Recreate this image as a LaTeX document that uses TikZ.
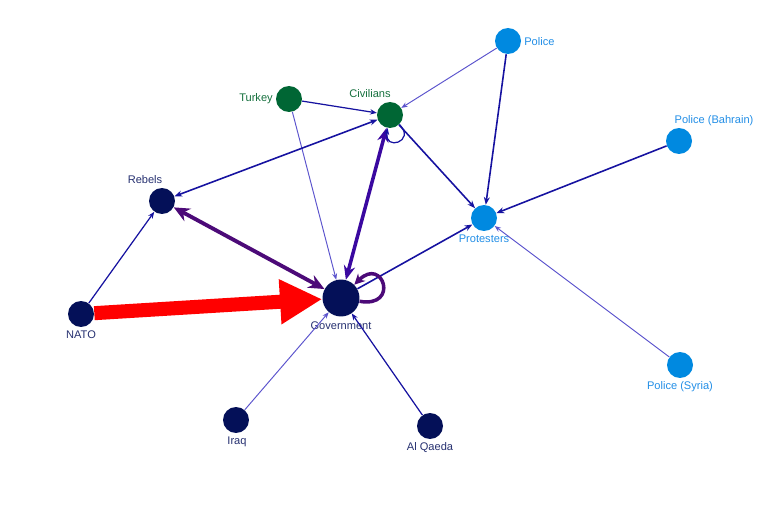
\documentclass[tikz,border=0pt]{standalone}
\usepackage{fontspec}
\setmainfont{Liberation Sans}
\usepackage{tikz}
\usetikzlibrary{arrows.meta}
\definecolor{NavyNode}{RGB}{4,16,88}
\definecolor{GreenNode}{RGB}{0,102,52}
\definecolor{SkyNode}{RGB}{0,137,224}
\definecolor{NavyText}{RGB}{38,48,112}
\definecolor{GreenText}{RGB}{22,112,62}
\definecolor{SkyText}{RGB}{34,142,230}
\definecolor{TieDark}{RGB}{22,18,160}
\definecolor{TieLight}{RGB}{92,84,205}
\definecolor{TieViolet}{RGB}{58,8,160}
\definecolor{TiePurple}{RGB}{76,10,120}
\definecolor{TieRed}{RGB}{255,0,0}
\tikzset{
  navynode/.style={circle,fill=NavyNode,inner sep=0pt,minimum size=0.52cm},
  greennode/.style={circle,fill=GreenNode,inner sep=0pt,minimum size=0.52cm},
  skynode/.style={circle,fill=SkyNode,inner sep=0pt,minimum size=0.52cm},
  navytext/.style={text=NavyText,font=\fontsize{6.3}{7.5}\selectfont,inner sep=0pt},
  greentext/.style={text=GreenText,font=\fontsize{6.3}{7.5}\selectfont,inner sep=0pt},
  skytext/.style={text=SkyText,font=\fontsize{6.3}{7.5}\selectfont,inner sep=0pt},
  thintie/.style={-{Stealth[length=3.6pt,width=2.8pt]},TieLight,line width=0.55pt},
  darktie/.style={-{Stealth[length=3.8pt,width=3pt]},TieDark,line width=0.7pt},
  boldtie/.style={-{Stealth[length=4.4pt,width=3.4pt]},TieDark,line width=0.9pt},
  violettie/.style={{Stealth[length=8pt,width=6.5pt]}-{Stealth[length=8pt,width=6.5pt]},
                    TieViolet,line width=2pt},
  purpletie/.style={{Stealth[length=9pt,width=8pt]}-{Stealth[length=9pt,width=8pt]},
                    TiePurple,line width=2.2pt},
  redtie/.style={-{Triangle[length=24pt,width=24pt]},TieRed,line width=8pt}}

\begin{document}
\begin{tikzpicture}[x=0.02cm,y=0.02cm]
\useasboundingbox (0,0) rectangle (768,-530);

% actors
\node[navynode] (nato)  at (81,-314)  {};
\node[navynode] (reb)   at (162,-201) {};
\node[navynode, minimum size=0.74cm] (gov) at (341,-298) {};
\node[navynode] (iraq)  at (236,-420) {};
\node[navynode] (aq)    at (430,-426) {};
\node[greennode] (tur)  at (289,-99)  {};
\node[greennode] (civ)  at (390,-115) {};
\node[skynode] (pol)    at (508,-41)  {};
\node[skynode] (polb)   at (679,-141) {};
\node[skynode] (prot)   at (484,-218) {};
\node[skynode] (pols)   at (680,-365) {};

% names
\node[navytext]  (nato-l) at (81,-335)  {NATO};
\node[navytext]  (reb-l)  at (145,-180) {Rebels};
\node[navytext]  (gov-l)  at (341,-326) {Government};
\node[navytext]  (iraq-l) at (237,-442) {Iraq};
\node[navytext]  (aq-l)   at (430,-448) {Al Qaeda};
\node[greentext] (tur-l)  at (256,-99)  {Turkey};
\node[greentext] (civ-l)  at (370,-94)  {Civilians};
\node[skytext, anchor=west] (pol-l) at (524,-42) {Police};
\node[skytext]   (polb-l) at (714,-121) {Police (Bahrain)};
\node[skytext]   (prot-l) at (484,-239) {Protesters};
\node[skytext]   (pols-l) at (680,-387) {Police (Syria)};

% ties
\draw[thintie] (pol) -- (civ);
\draw[boldtie] (pol) -- (prot);
\draw[boldtie] (polb) -- (prot);
\draw[thintie] (pols) -- (prot);
\draw[boldtie] (civ) -- (prot);
\draw[boldtie] (gov) -- (prot);
\draw[darktie] (tur) -- (civ);
\draw[thintie] (tur) -- (gov);
\draw[boldtie,{Stealth[length=4.4pt,width=3.4pt]}-{Stealth[length=4.4pt,width=3.4pt]}] (reb) -- (civ);
\draw[darktie] (nato) -- (reb);
\draw[thintie] (iraq) -- (gov);
\draw[darktie] (aq) -- (gov);
\draw[violettie] (gov) -- (civ);
\draw[purpletie] (gov) -- (reb);
\draw[redtie] (nato) -- (gov);
\draw[darktie] (civ) to[out=-45,in=-100,looseness=5] (civ);
\draw[TiePurple,line width=2pt,-{Stealth[length=6pt,width=6pt]}] (gov) to[out=-10,in=45,looseness=6] (gov);
\end{tikzpicture}
\end{document}
